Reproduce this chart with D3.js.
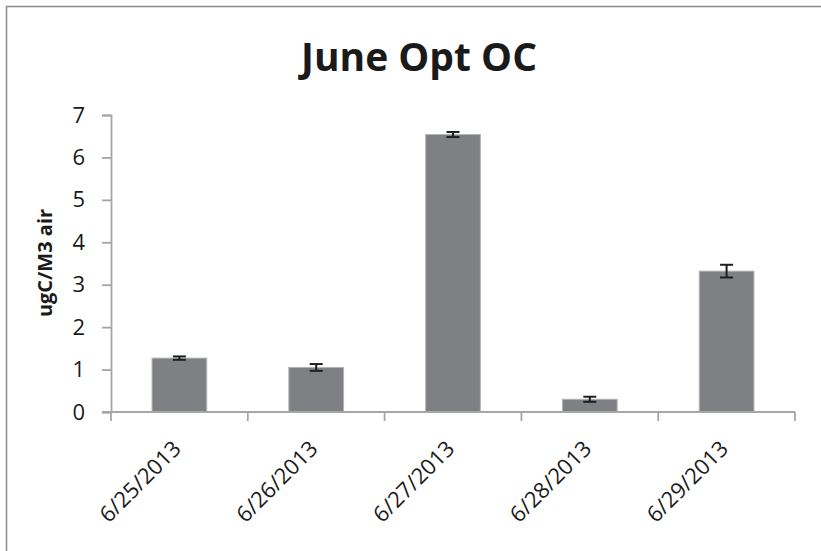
<!DOCTYPE html>
<html>
<head>
<meta charset="utf-8">
<script src="https://cdn.jsdelivr.net/npm/d3@7"></script>
<style>
  html, body { margin: 0; padding: 0; background: #fff; overflow: hidden; }
  svg { display: block; }
</style>
</head>
<body>
<svg></svg>
<script>
// chart data
let categories = ['6/25/2013', '6/26/2013', '6/27/2013', '6/28/2013', '6/29/2013']
let values = [1.27, 1.05, 6.54, 0.30, 3.32]
let errors = [0.04, 0.08, 0.06, 0.06, 0.15]
let yTicks = [0, 1, 2, 3, 4, 5, 6, 7]

let title = 'June Opt OC'
let yTitle = 'ugC/M3 air'

// canvas ('top' is taken by window.top, so plot* names)
let width = 821
let height = 551
let plotLeft = 111
let plotRight = 795
let plotTop = 115
let plotBottom = 412

let svg = d3.select('svg')
    .attr('width', width)
    .attr('height', height)

// outer chart border: only the top and left edges fall inside the picture
svg.append('path')
    .attr('d', 'M6.5,' + height + 'V6.5H' + width)
    .attr('fill', 'none')
    .attr('stroke', '#8c8c8c')
    .attr('stroke-width', 1.5)

let xScale = d3.scaleBand()
    .domain(categories)
    .range([plotLeft, plotRight])
    .paddingInner(0.6)
    .paddingOuter(0.3)

let yScale = d3.scaleLinear()
    .domain([0, 7])
    .range([plotBottom, plotTop])

// y axis
let yAxis = d3.axisLeft(yScale)
    .tickValues(yTicks)
    .tickSize(9)
    .tickPadding(17)
    .tickFormat(d3.format('d'))

let gy = svg.append('g')
    .attr('transform', 'translate(' + plotLeft + ',0)')
    .call(yAxis)
gy.select('.domain').attr('stroke', '#a6a6a6').attr('stroke-width', 1.8)
gy.selectAll('.tick line').attr('stroke', '#a6a6a6').attr('stroke-width', 1.8)
gy.selectAll('.tick text')
    .attr('fill', '#1a1a1a')
    .style('font-family', 'Open Sans')
    .style('font-size', '22px')

// bars
let step = xScale.step()
svg.selectAll('rect.bar')
    .data(values)
    .enter()
    .append('rect')
    .attr('class', 'bar')
    .attr('x', (d, i) => xScale(categories[i]))
    .attr('y', d => yScale(d))
    .attr('width', xScale.bandwidth())
    .attr('height', d => yScale(0) - yScale(d))
    .attr('fill', '#7f8084')
    .attr('stroke', '#b4b4b6')
    .attr('stroke-width', 1)

// x axis line + boundary ticks (Excel style, between categories)
let boundaries = categories.map(c => xScale(c) - step * xScale.paddingOuter())
boundaries.push(xScale(categories[categories.length - 1]) + xScale.bandwidth() + step * xScale.paddingOuter())

svg.append('line')
    .attr('x1', xScale.range()[0] - 9)
    .attr('x2', xScale.range()[1])
    .attr('y1', yScale(0))
    .attr('y2', yScale(0))
    .attr('stroke', '#a6a6a6')
    .attr('stroke-width', 1.8)

svg.selectAll('line.xtick')
    .data(boundaries)
    .enter()
    .append('line')
    .attr('class', 'xtick')
    .attr('x1', d => d)
    .attr('x2', d => d)
    .attr('y1', yScale(0))
    .attr('y2', yScale(0) + 9)
    .attr('stroke', '#a6a6a6')
    .attr('stroke-width', 1.8)

// error bars
let cap = 6.5
let errG = svg.selectAll('g.err')
    .data(values)
    .enter()
    .append('g')
    .attr('class', 'err')
    .attr('stroke', '#1e1e1e')
    .attr('stroke-width', 2)
errG.append('line')
    .attr('x1', (d, i) => xScale(categories[i]) + xScale.bandwidth() / 2)
    .attr('x2', (d, i) => xScale(categories[i]) + xScale.bandwidth() / 2)
    .attr('y1', (d, i) => yScale(d + errors[i]))
    .attr('y2', (d, i) => yScale(d - errors[i]))
errG.append('line')
    .attr('x1', (d, i) => xScale(categories[i]) + xScale.bandwidth() / 2 - cap)
    .attr('x2', (d, i) => xScale(categories[i]) + xScale.bandwidth() / 2 + cap)
    .attr('y1', (d, i) => yScale(d + errors[i]))
    .attr('y2', (d, i) => yScale(d + errors[i]))
errG.append('line')
    .attr('x1', (d, i) => xScale(categories[i]) + xScale.bandwidth() / 2 - cap)
    .attr('x2', (d, i) => xScale(categories[i]) + xScale.bandwidth() / 2 + cap)
    .attr('y1', (d, i) => yScale(d - errors[i]))
    .attr('y2', (d, i) => yScale(d - errors[i]))

// rotated category labels
svg.selectAll('text.xlabel')
    .data(categories)
    .enter()
    .append('text')
    .attr('class', 'xlabel')
    .attr('transform', d => 'translate(' + (xScale(d) + xScale.bandwidth() / 2 + 3) + ',' + (yScale(0) + 38) + ') rotate(-45)')
    .attr('text-anchor', 'end')
    .attr('fill', '#1a1a1a')
    .style('font-family', 'Open Sans')
    .style('font-size', '22px')
    .text(d => d)

// title
svg.append('text')
    .attr('x', 419)
    .attr('y', 71)
    .attr('text-anchor', 'middle')
    .attr('fill', '#1a1a1a')
    .style('font-family', 'Open Sans')
    .style('font-weight', 'bold')
    .style('font-size', '39px')
    .text(title)

// y axis title
svg.append('text')
    .attr('transform', 'translate(52,' + 263 + ') rotate(-90)')
    .attr('text-anchor', 'middle')
    .attr('fill', '#1a1a1a')
    .style('font-family', 'Open Sans')
    .style('font-weight', 'bold')
    .style('font-size', '20px')
    .text(yTitle)
</script>
</body>
</html>
